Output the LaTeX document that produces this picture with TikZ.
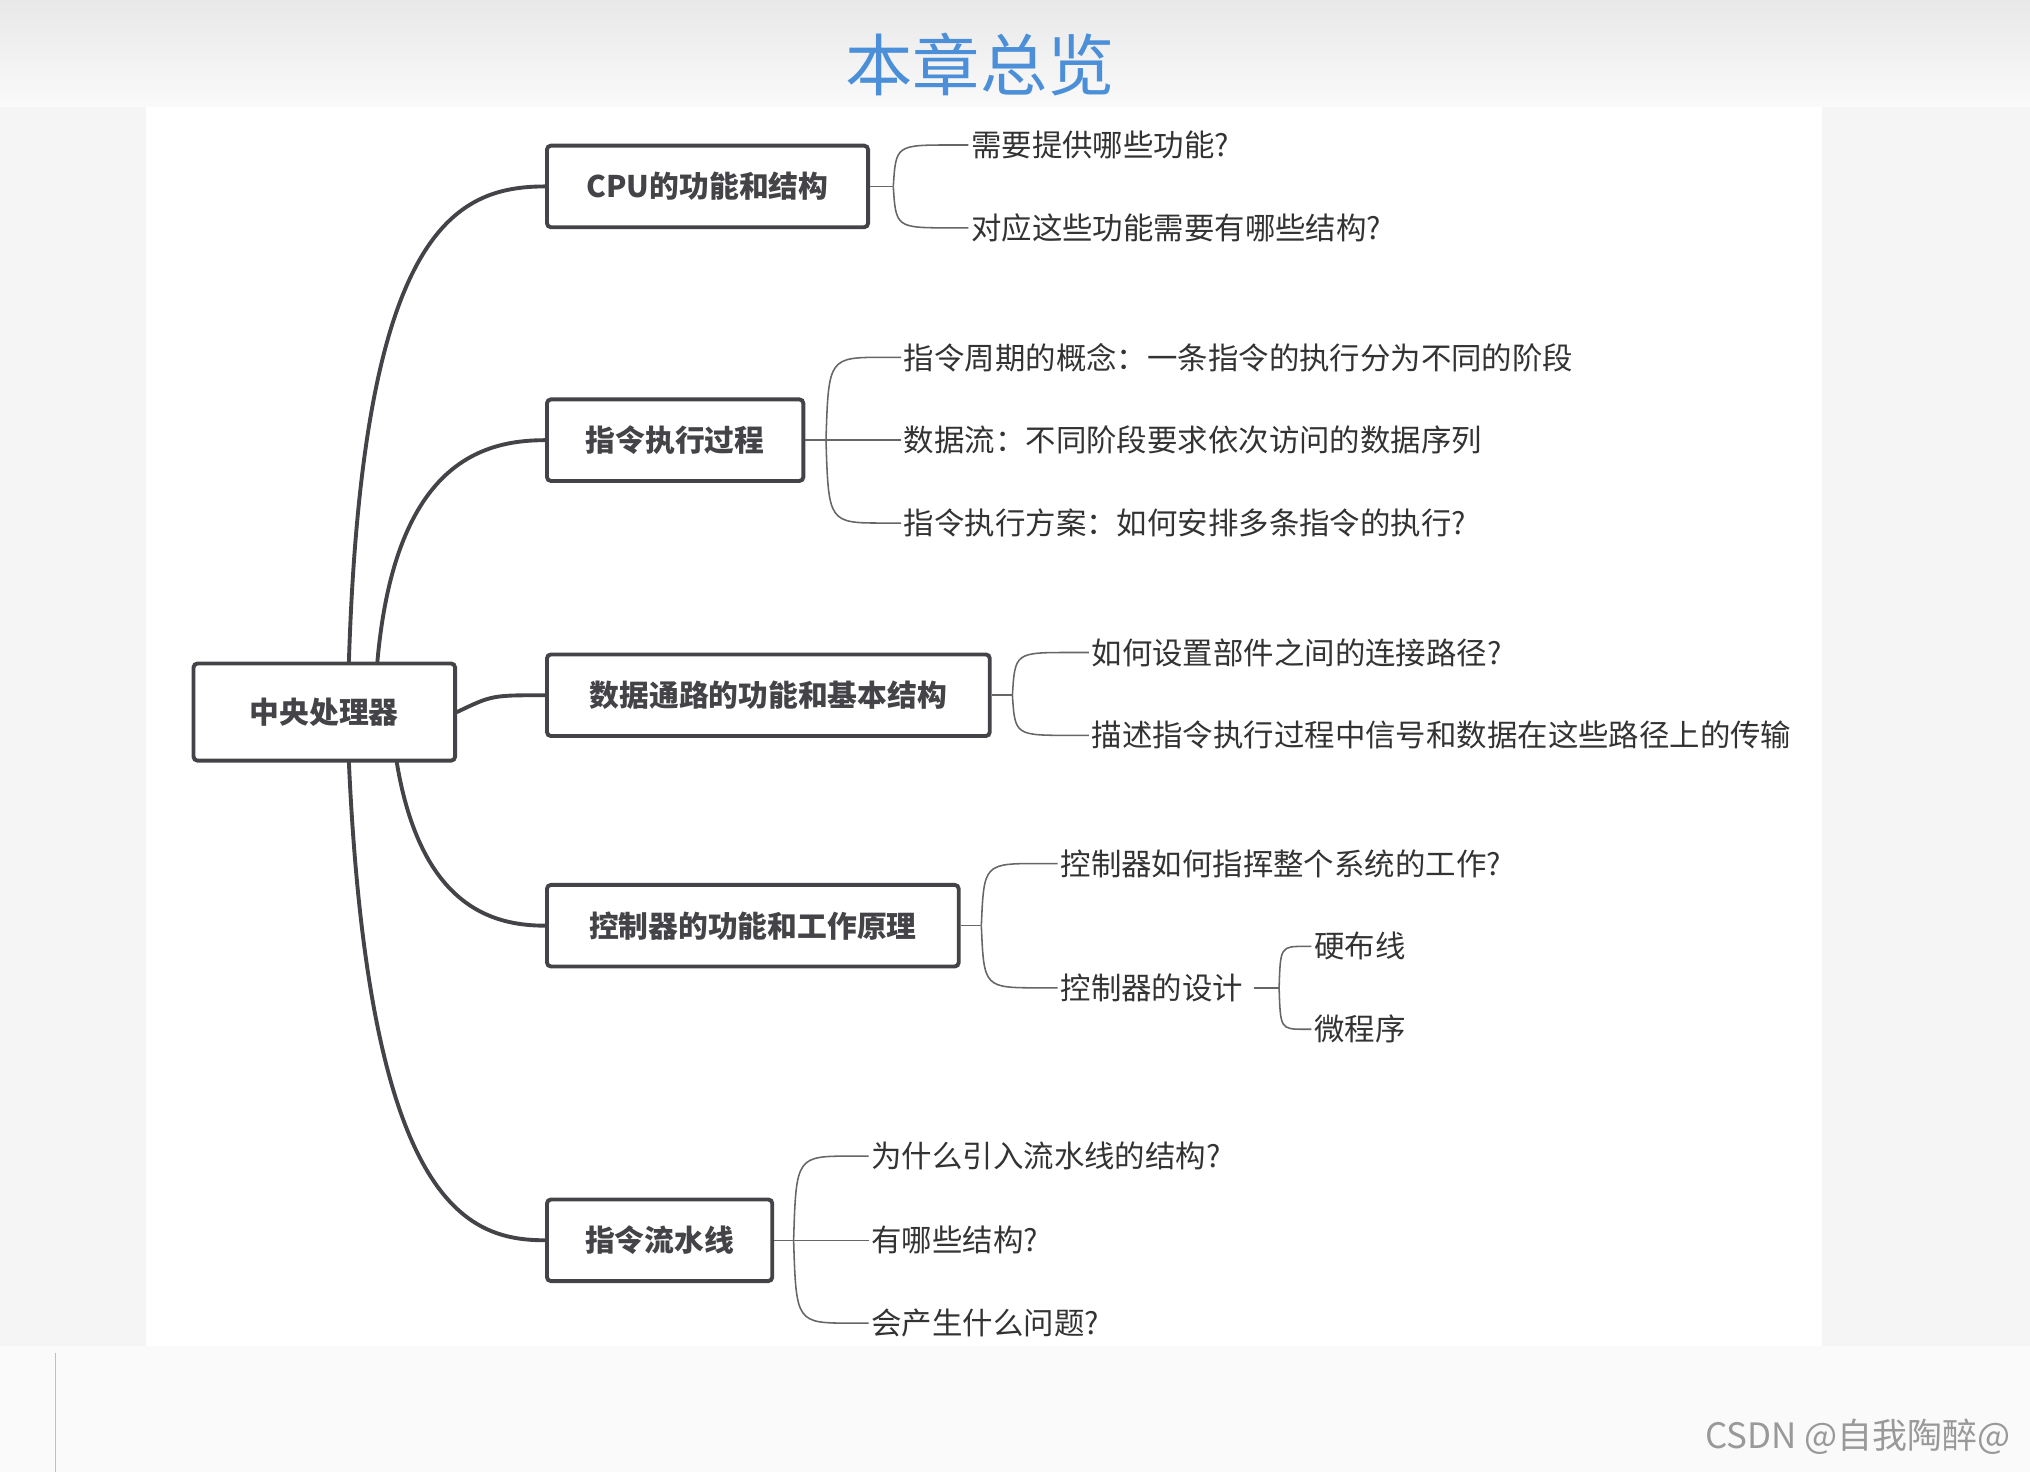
\documentclass[tikz,border=0pt]{standalone}
\usepackage{fontspec}
\setmainfont{Noto Sans CJK SC}
\definecolor{ln}{HTML}{444448}
\definecolor{lf}{HTML}{666666}
\definecolor{tt}{HTML}{4A8FD8}
\tikzset{
 box/.style={draw=ln,line width=3pt,rounded corners=3pt,minimum height=63pt,inner xsep=26pt,anchor=west,font=\fontsize{23}{26}\selectfont\bfseries,text=ln},
 leaf/.style={anchor=west,inner sep=2pt,font=\fontsize{23.5}{26}\selectfont,text=black!80},
 main/.style={draw=ln,line width=3pt,line cap=round},
 thin/.style={draw=lf,line width=1.2pt}
}
\begin{document}
\begin{tikzpicture}[x=1pt,y=-1pt]
\useasboundingbox (0,0) rectangle (1568,1137);
\fill[top color=black!9,bottom color=black!2] (0,0) rectangle (1568,83);
\fill[black!4] (0,83) rectangle (1568,1137);
\fill[white] (113,83) rectangle (1407,1040);
\fill[black!2] (0,1040) rectangle (1568,1137);
\draw[black!25,line width=1pt] (43,1045) -- (43,1137);
\node[font=\fontsize{52}{56}\selectfont,text=tt] (title) at (757,50) {本章总览};
\node[font=\fontsize{27}{30}\selectfont,text=black!40] (csdn) at (1435,1110) {CSDN @自我陶醉@};

\node[box,minimum width=202pt,minimum height=75pt] (c) at (148,550) {中央处理器};
\node[box,minimum width=248pt] (b1) at (421,144) {CPU的功能和结构};
\node[box,minimum width=198pt] (b2) at (421,340) {指令执行过程};
\node[box,minimum width=342pt] (b3) at (421,537) {数据通路的功能和基本结构};
\node[box,minimum width=318pt] (b4) at (421,715) {控制器的功能和工作原理};
\node[box,minimum width=174pt] (b5) at (421,958) {指令流水线};

\draw[main] ([xshift=19pt]c.north) .. controls (280,180) and (350,144) .. (b1.west);
\draw[main] ([xshift=41pt]c.north) .. controls (305,360) and (370,340) .. (b2.west);
\draw[main] (c.east) .. controls (380,537) .. (b3.west);
\draw[main] ([xshift=56pt]c.south) .. controls (325,700) and (380,715) .. (b4.west);
\draw[main] ([xshift=19pt]c.south) .. controls (285,930) and (360,958) .. (b5.west);

% leaves
\node[leaf] (l11) at (748,112) {需要提供哪些功能?};
\node[leaf] (l12) at (748,176) {对应这些功能需要有哪些结构?};
\node[leaf] (l21) at (696,276) {指令周期的概念：一条指令的执行分为不同的阶段};
\node[leaf] (l22) at (696,340) {数据流：不同阶段要求依次访问的数据序列};
\node[leaf] (l23) at (696,404) {指令执行方案：如何安排多条指令的执行?};
\node[leaf] (l31) at (841,504) {如何设置部件之间的连接路径?};
\node[leaf] (l32) at (841,568) {描述指令执行过程中信号和数据在这些路径上的传输};
\node[leaf] (l41) at (817,667) {控制器如何指挥整个系统的工作?};
\node[leaf] (l42) at (817,763) {控制器的设计};
\node[leaf] (l43) at (1013,731) {硬布线};
\node[leaf] (l44) at (1013,795) {微程序};
\node[leaf] (l51) at (671,893) {为什么引入流水线的结构?};
\node[leaf] (l52) at (671,958) {有哪些结构?};
\node[leaf] (l53) at (671,1022) {会产生什么问题?};

\coordinate (h1) at (690,144);
\coordinate (h2) at (638,340);
\coordinate (h3) at (782,537);
\coordinate (h4) at (758,715);
\coordinate (h41) at (988,763);
\coordinate (h5) at (613,958);

\draw[thin] (b1.east) -- (h1);
\draw[thin] (h1) .. controls (692,112) .. (735,112) -- (l11.west);
\draw[thin] (h1) .. controls (692,176) .. (735,176) -- (l12.west);
\draw[thin] (b2.east) -- (h2) -- (l22.west);
\draw[thin] (h2) .. controls (640,276) .. (683,276) -- (l21.west);
\draw[thin] (h2) .. controls (640,404) .. (683,404) -- (l23.west);
\draw[thin] (b3.east) -- (h3);
\draw[thin] (h3) .. controls (784,504) .. (827,504) -- (l31.west);
\draw[thin] (h3) .. controls (784,568) .. (827,568) -- (l32.west);
\draw[thin] (b4.east) -- (h4);
\draw[thin] (h4) .. controls (760,667) .. (803,667) -- (l41.west);
\draw[thin] (h4) .. controls (760,763) .. (803,763) -- (l42.west);
\draw[thin] (l42.east) ++(6pt,0) -- (h41);
\draw[thin] (h41) .. controls (989,731) .. (1008,731) -- (l43.west);
\draw[thin] (h41) .. controls (989,795) .. (1008,795) -- (l44.west);
\draw[thin] (b5.east) -- (h5) -- (l52.west);
\draw[thin] (h5) .. controls (615,893) .. (658,893) -- (l51.west);
\draw[thin] (h5) .. controls (615,1022) .. (658,1022) -- (l53.west);
\end{tikzpicture}
\end{document}
